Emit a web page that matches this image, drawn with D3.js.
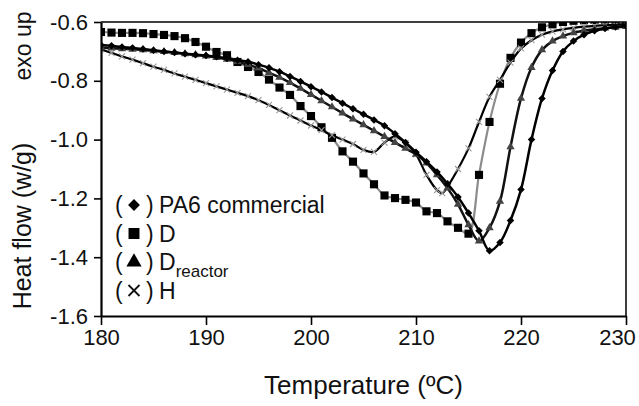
<!DOCTYPE html>
<html>
<head>
<meta charset="utf-8">
<script src="https://cdn.jsdelivr.net/npm/d3@7"></script>
<style>
  body { margin: 0; background: #fff; }
  text { font-family: "Liberation Sans", Arial, sans-serif; fill: #111; }
</style>
</head>
<body>
<div id="chart"></div>
<script>
let margin = {
  top:    22,
  right:  13,
  bottom: 90,
  left:   101
};

let exteriorWidth  = 639,
    exteriorHeight = 406;

let interiorWidth  = exteriorWidth - margin.left - margin.right,
    interiorHeight = exteriorHeight - margin.top - margin.bottom;

// temperatures (degC)
let tempA = [180,181,182,183,184,185,186,187,188,189,190,191,192,193,194,195,196,197,198,199,
             200,201,202,203,204,205,206,207,208,209,210,211,212,213,214,215,216,217,218,219,
             220,221,222,223,224,225,226,227,228,229,230];

// PA6 commercial
let pa6Values = [-0.678,-0.681,-0.685,-0.688,-0.692,-0.696,-0.700,-0.704,-0.708,-0.711,
                 -0.714,-0.718,-0.724,-0.730,-0.735,-0.745,-0.756,-0.769,-0.785,-0.802,
                 -0.820,-0.838,-0.857,-0.876,-0.895,-0.914,-0.933,-0.953,-0.980,-1.010,
                 -1.043,-1.075,-1.110,-1.150,-1.195,-1.250,-1.310,-1.378,-1.350,-1.275,
                 -1.170,-1.000,-0.860,-0.765,-0.700,-0.665,-0.643,-0.630,-0.622,-0.617,-0.614];

// D
let dValues = [-0.634,-0.636,-0.637,-0.637,-0.638,-0.641,-0.644,-0.648,-0.655,-0.668,
               -0.684,-0.702,-0.713,-0.736,-0.753,-0.770,-0.796,-0.823,-0.848,-0.886,
               -0.920,-0.958,-0.994,-1.040,-1.075,-1.115,-1.152,-1.190,-1.199,-1.205,
               -1.214,-1.244,-1.250,-1.278,-1.300,-1.320,-1.120,-0.940,-0.810,-0.722,
               -0.670,-0.638,-0.618,-0.608,-0.600,-0.596,-0.594,-0.593,-0.592,-0.592,-0.592];

// D reactor
let dReactorValues = [-0.687,-0.689,-0.691,-0.693,-0.695,-0.698,-0.701,-0.704,-0.708,-0.712,
                      -0.716,-0.721,-0.727,-0.735,-0.745,-0.757,-0.772,-0.788,-0.806,-0.826,
                      -0.847,-0.868,-0.889,-0.910,-0.930,-0.950,-0.970,-0.990,-1.010,-1.030,
                      -1.050,-1.080,-1.120,-1.165,-1.220,-1.290,-1.345,-1.300,-1.210,-1.025,
                      -0.860,-0.755,-0.695,-0.665,-0.648,-0.637,-0.630,-0.625,-0.621,-0.618,-0.616];

// H
let tempH = [180,181,182,183,184,185,186,187,188,189,190,191,192,193,194,195,196,197,198,199,
             200,201,202,203,204,205,206,207,208,209,210,211,212,212.5,213,214,215,216,217,218,
             219,220,221,222,223,224,225,226,227,228,229,230];
let hValues = [-0.693,-0.705,-0.717,-0.728,-0.740,-0.752,-0.763,-0.775,-0.786,-0.797,
               -0.808,-0.819,-0.830,-0.841,-0.852,-0.866,-0.882,-0.900,-0.918,-0.935,
               -0.952,-0.968,-0.985,-1.000,-1.015,-1.035,-1.042,-1.010,-0.990,-1.012,
               -1.050,-1.120,-1.172,-1.182,-1.160,-1.100,-1.030,-0.940,-0.855,-0.797,
               -0.738,-0.690,-0.662,-0.643,-0.632,-0.625,-0.620,-0.616,-0.613,-0.611,-0.609,-0.607];

let xTicks = [180, 190, 200, 210, 220, 230];
let yTicks = [-0.6, -0.8, -1.0, -1.2, -1.4, -1.6];

let legendLabels = ["PA6 commercial", "D", "D", "H"];

function zip(ts, vs) {
  return ts.map(function(t, i) { return {t: t, v: vs[i]}; });
}

// thin x-shaped cross, like the reference
let crossPath = function(r) {
  return "M" + (-r) + "," + (-r) + "L" + r + "," + r + "M" + (-r) + "," + r + "L" + r + "," + (-r);
};

// rotate: used to turn a square into a diamond
let series = [
  {name: "D",        data: zip(tempA, dValues),        line: "#8c8c8c", width: 2.2, symbol: d3.symbolSquare,   size: 66, rotate: 0,  fill: "#000"},
  {name: "H",        data: zip(tempH, hValues),        line: "#000",    width: 2.2, symbol: null,              size: 3,  rotate: 0,  fill: "#9a9a9a"},
  {name: "Dreactor", data: zip(tempA, dReactorValues), line: "#111",    width: 2.5, symbol: d3.symbolTriangle, size: 30, rotate: 0,  fill: "#444"},
  {name: "PA6",      data: zip(tempA, pa6Values),      line: "#000",    width: 2.5, symbol: d3.symbolSquare,   size: 28, rotate: 45, fill: "#000"}
];

let svg =
  d3.select("#chart")
    .append("svg")
      .attr("width", exteriorWidth)
      .attr("height", exteriorHeight)
    .append("g")
      .attr("transform", translate(margin.left, margin.top));

let x =
  d3.scaleLinear()
    .domain([180, 230])
    .range([0, interiorWidth]);

let y =
  d3.scaleLinear()
    .domain([-1.6, -0.6])
    .range([interiorHeight, 0]);

svg.append("defs")
   .append("clipPath")
     .attr("id", "clip")
   .append("rect")
     .attr("width", interiorWidth)
     .attr("height", interiorHeight);

let line =
  d3.line()
    .x(function(d) { return x(d.t); })
    .y(function(d) { return y(d.v); })
    .curve(d3.curveCatmullRom);

let plot = svg.append("g").attr("clip-path", "url(#clip)");

series.forEach(function(s) {
  plot.append("path")
      .datum(s.data)
      .attr("fill", "none")
      .attr("stroke", s.line)
      .attr("stroke-width", s.width)
      .attr("d", line);

  let marks = plot.selectAll(".m-" + s.name)
      .data(s.data)
    .enter().append("path")
      .attr("class", "m-" + s.name)
      .attr("transform", function(d) {
        return translate(x(d.t), y(d.v)) + " rotate(" + s.rotate + ")";
      });

  if (s.symbol) {
    marks.attr("d", d3.symbol().type(s.symbol).size(s.size))
         .attr("fill", s.fill);
  } else {
    marks.attr("d", crossPath(s.size))
         .attr("fill", "none")
         .attr("stroke", s.fill)
         .attr("stroke-width", 1.1);
  }
});

// frame
svg.append("path")
   .attr("d", "M0,0H" + interiorWidth + "V" + interiorHeight)
   .attr("fill", "none")
   .attr("stroke", "#000")
   .attr("stroke-width", 1.5);

let xAxis = svg.append("g")
    .attr("transform", translate(0, interiorHeight))
    .call(d3.axisBottom(x).tickValues(xTicks).tickSize(9).tickPadding(4).tickSizeOuter(0));

let yAxis = svg.append("g")
    .call(d3.axisLeft(y).tickValues(yTicks).tickSize(7).tickPadding(6).tickSizeOuter(0)
            .tickFormat(function(d) { return d3.format(".1f")(d).replace("−", "-"); }));

[xAxis, yAxis].forEach(function(a) {
  a.select(".domain").attr("stroke-width", 2.2);
  a.selectAll(".tick line").attr("stroke-width", 1.6);
  a.selectAll("text")
     .style("font-family", "'Liberation Sans', Arial, sans-serif")
     .style("font-size", "22px")
     .attr("fill", "#111");
});
xAxis.selectAll(".tick text")
     .attr("dx", function(d) { return d === 230 ? -9 : 0; });

svg.append("text")
   .attr("x", interiorWidth / 2)
   .attr("y", interiorHeight + 78)
   .attr("text-anchor", "middle")
   .style("font-size", "26px")
   .text("Temperature (ºC)");

svg.append("text")
   .attr("transform", translate(-70, 204) + " rotate(-90)")
   .attr("text-anchor", "middle")
   .style("font-size", "25px")
   .text("Heat flow (w/g)");

svg.append("text")
   .attr("transform", translate(-70, 24) + " rotate(-90)")
   .attr("text-anchor", "middle")
   .style("font-size", "23px")
   .text("exo up");

// legend
let legendSymbols = [d3.symbolSquare, d3.symbolSquare, d3.symbolTriangle, null];
let legendSizes   = [70, 120, 100, 5.5];
let legendRotate  = [45, 0, 0, 0];

let legend = svg.append("g")
    .attr("transform", translate(14, 191));

legendLabels.forEach(function(label, i) {
  let g = legend.append("g").attr("transform", translate(0, i * 28.5));
  g.append("text").attr("x", 0).attr("y", 0).style("font-size", "23px").text("(");
  let sym = g.append("path")
     .attr("transform", translate(19, -8) + " rotate(" + legendRotate[i] + ")");
  if (legendSymbols[i]) {
    sym.attr("d", d3.symbol().type(legendSymbols[i]).size(legendSizes[i]))
       .attr("fill", "#000");
  } else {
    sym.attr("d", crossPath(legendSizes[i]))
       .attr("fill", "none")
       .attr("stroke", "#111")
       .attr("stroke-width", 1.8);
  }
  g.append("text").attr("x", 31).attr("y", 0).style("font-size", "23px").text(")");
  let t = g.append("text").attr("x", 44).attr("y", 0).style("font-size", "23px").text(label);
  if (i === 2) {
    t.append("tspan")
     .attr("dy", 7)
     .style("font-size", "17px")
     .text("reactor");
  }
});

function translate(x, y=0) {
  return "translate({x}, {y})"
          .replace("{x}", x)
          .replace("{y}", y);
}
</script>
</body>
</html>
